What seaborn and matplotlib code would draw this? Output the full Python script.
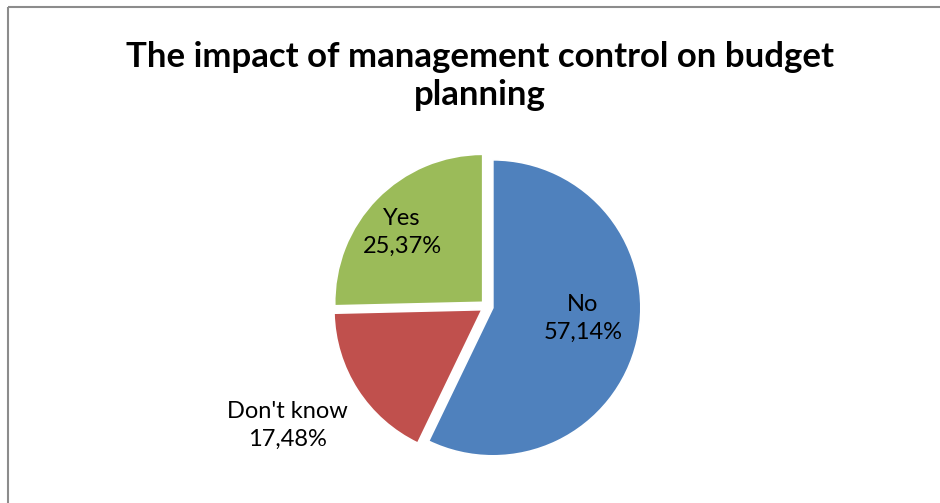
import matplotlib
matplotlib.use("Agg")
import matplotlib.pyplot as plt
import seaborn as sns

# Survey answers and their shares (percent)
categories = ["No", "Don't know", "Yes"]
shares = [57.14, 17.48, 25.37]
share_labels = ["57,14%", "17,48%", "25,37%"]
colors = ["#4F81BD", "#C0504D", "#9BBB59"]
title = "The impact of management control on budget\nplanning"

sns.set_theme(style="white")
plt.rcParams["font.family"] = ["Lato", "DejaVu Sans"]

W, H = 940, 503
fig = plt.figure(figsize=(W / 100, H / 100), dpi=100)
ax = fig.add_axes([0, 0, 1, 1])

# Pie in pixel-like data units; explode is an absolute offset
cx, cy, r = 487, H - 306.5, 148
ax.pie(
    shares,
    colors=colors,
    startangle=90,
    counterclock=False,
    center=(cx, cy),
    radius=r,
    explode=[6] * len(shares),
    wedgeprops=dict(edgecolor="white", linewidth=1.2),
    frame=True,
)
ax.set_xlim(0, W)
ax.set_ylim(0, H)
ax.set_aspect("equal")
ax.axis("off")

label_pos = {"No": (583, 318), "Don't know": (287, 425), "Yes": (402, 232)}
for cat, lab in zip(categories, share_labels):
    x, y = label_pos[cat]
    ax.text(x, H - y, f"{cat}\n{lab}", ha="center", va="center",
            fontsize=17, color="black", linespacing=1.4)

ax.text(480, H - 76, title, ha="center", va="center", fontsize=25,
        fontweight="bold", color="black", linespacing=1.2)

# Chart area frame (top and left edges)
ax.plot([8, W], [H - 7, H - 7], color="#8c8c8c", lw=1.5, solid_capstyle="butt")
ax.plot([8, 8], [H - 7, 0], color="#8c8c8c", lw=1.5, solid_capstyle="butt")

fig.savefig("out.png", dpi=100, facecolor="white")
